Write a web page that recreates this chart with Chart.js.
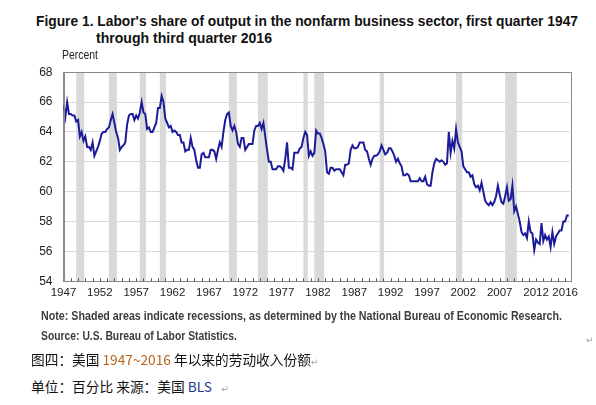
<!DOCTYPE html>
<html>
<head>
<meta charset="utf-8">
<script src="https://cdn.jsdelivr.net/npm/chart.js@4.4.0/dist/chart.umd.min.js"></script>
<style>
  html, body { margin: 0; padding: 0; background: #fff; }
  #page { position: relative; width: 596px; height: 405px; overflow: hidden; background: #fff; }
  .txt { position: absolute; white-space: nowrap; line-height: 1; z-index: 2; }
  .title { font-family: "Liberation Sans", sans-serif; font-weight: bold; font-size: 15.5px; color: #111; }
  .small { font-family: "Liberation Sans", sans-serif; font-size: 12.5px; color: #222; }
  .note { font-family: "Liberation Sans", sans-serif; font-weight: bold; font-size: 12.5px; color: #3c3c3c; }
  .cn { font-family: "Noto Sans CJK SC", sans-serif; font-size: 13.7px; color: #111; }
  .num { color: #b8661e; }
  .bls { color: #233a92; }
  .mark { color: #a0a0a0; font-family: "DejaVu Sans", sans-serif; font-size: 9px; }
  #chartBox { position: absolute; left: 0; top: 54px; width: 596px; height: 256px; z-index: 1; }
</style>
</head>
<body>
<div id="page">
  <div class="txt title" data-w="542" style="left:36px; top:13px;">Figure 1. Labor's share of output in the nonfarm business sector, first quarter 1947</div>
  <div class="txt title" data-w="176" style="left:96px; top:30px;">through third quarter 2016</div>
  <div class="txt small" data-w="36" style="left:62px; top:49px;">Percent</div>

  <div id="chartBox"><canvas id="shareChart" width="596" height="256"></canvas></div>

  <div class="txt note" data-w="521" style="left:41px; top:310px;">Note: Shaded areas indicate recessions, as determined by the National Bureau of Economic Research.</div>
  <div class="txt note" data-w="196" style="left:41px; top:330px;">Source: U.S. Bureau of Labor Statistics.</div>
  <div class="txt mark" style="left:586px; top:336px;">↵</div>

  <div class="txt cn" style="left:31px; top:353px;">图四：美国 <span class="num">1947~2016</span> 年以来的劳动收入份额<span class="mark">↵</span></div>
  <div class="txt cn" style="left:31px; top:380px;">单位：百分比 来源：美国 <span class="bls">BLS</span> &nbsp; <span class="mark">↵</span></div>
</div>

<script>
// Labor's share, nonfarm business, quarterly from 1947Q1 (percent)
const startYear = 1947;

const share1940s = [
    65.8, 65.0, 66.0, 65.2,   // 1947
    65.2, 65.1, 65.1, 64.7,   // 1948
    64.8, 63.7, 64.0, 63.4    // 1949
];
const share1950s = [
    63.7, 63.0, 63.0, 62.8,
    63.3, 62.4, 62.7, 63.0,
    63.4, 63.9, 64.0, 64.0,
    64.2, 64.3, 64.8, 65.2,
    64.6, 64.0, 63.6, 62.8,
    63.0, 63.1, 63.3, 64.5,
    65.1, 65.2, 65.2, 64.8,
    65.1, 64.9, 65.3, 66.0,
    65.3, 65.2, 64.2, 64.3,
    64.0, 64.0, 64.3, 64.6
];
const share1960s = [
    65.6, 65.6, 66.4, 66.0,
    64.9, 64.6, 64.3, 64.4,
    64.0, 64.1, 64.0, 63.8,
    63.8, 63.3, 63.3, 62.7,
    62.8, 62.8, 63.6, 63.0,
    62.8, 62.1, 61.6, 61.6,
    62.5, 62.6, 62.3, 62.3,
    62.3, 62.8, 62.8, 62.7,
    62.2, 62.8, 63.3, 63.0,
    64.0, 64.8, 65.2, 65.3
];
const share1970s = [
    64.4, 64.1, 64.4, 64.0,
    63.2, 63.0, 63.6, 63.6,
    62.8, 63.0, 63.2, 63.2,
    63.2, 64.1, 64.4, 64.4,
    64.6, 64.2, 64.6, 63.7,
    62.8, 62.0, 62.0, 61.5,
    61.5, 61.5, 61.7, 61.7,
    61.6, 61.4, 62.2, 63.3,
    61.6, 61.6, 61.5, 62.6,
    62.6, 62.6, 62.9, 63.0
];
const share1980s = [
    63.6, 64.0, 63.8, 62.4,
    62.7, 62.4, 62.6, 64.1,
    63.9, 63.9, 63.6, 63.2,
    62.7, 61.3, 61.2, 61.6,
    61.6, 61.4, 61.5, 61.5,
    61.5, 61.3, 61.1, 61.8,
    61.8, 61.9, 62.8, 63.1,
    62.9, 62.9, 63.0, 63.3,
    63.3, 63.3, 62.8, 62.7,
    62.2, 61.8, 62.2, 62.4
];
const share1990s = [
    62.4, 62.5, 62.7, 63.1,
    62.8, 62.5, 62.6, 62.9,
    62.9, 62.7, 62.4, 62.0,
    62.2, 61.9, 61.7, 61.1,
    61.1, 61.2, 61.1, 60.7,
    60.7, 60.7, 60.7, 60.7,
    60.9, 60.7, 60.7, 61.0,
    60.5, 60.4, 60.4, 61.3,
    61.9, 62.2, 62.1, 62.0,
    62.1, 62.0, 61.8, 61.9
];
const share2000s = [
    64.0, 62.6, 63.4, 62.9,
    64.2, 63.3, 63.0, 62.7,
    61.7, 61.5, 61.3, 61.3,
    61.0, 61.1, 60.5, 60.3,
    60.4, 60.1, 60.6, 60.0,
    59.4, 59.2, 59.1, 59.3,
    59.1, 59.3, 59.7, 60.4,
    59.8, 59.3, 59.2, 59.7,
    60.3, 59.4, 59.5, 60.4,
    58.7, 59.0, 58.5, 58.0
];
const share2010s = [
    57.3, 57.1, 57.2, 56.9,
    58.0, 57.3, 57.2, 56.1,
    56.8, 56.6, 56.5, 57.9,
    56.7, 57.1, 56.8, 57.0,
    56.3, 57.3, 56.5, 57.0,
    57.2, 57.4, 57.4, 58.0,
    58.0, 58.4, 58.4          // 2016Q1-Q3
];

// NBER recessions, peak and trough quarters
const recessionPeaks   = ["1948Q4", "1953Q2", "1957Q3", "1960Q2", "1969Q4", "1973Q4", "1980Q1", "1981Q3", "1990Q3", "2001Q1", "2007Q4"];
const recessionTroughs = ["1949Q4", "1954Q2", "1958Q2", "1961Q1", "1970Q4", "1975Q1", "1980Q3", "1982Q4", "1991Q1", "2001Q4", "2009Q2"];

const tickYears = [1947, 1952, 1957, 1962, 1967, 1972, 1977, 1982, 1987, 1992, 1997, 2002, 2007, 2012, 2016];
const yTicks = [54, 56, 58, 60, 62, 64, 66, 68];

const laborShare = [].concat(share1940s, share1950s, share1960s, share1970s,
                             share1980s, share1990s, share2000s, share2010s);

function quarterToYear(q) {
    const parts = q.split("Q");
    return parseInt(parts[0]) + (parseInt(parts[1]) - 1) / 4;
}

// squeeze the html texts to the width they take in the figure
document.querySelectorAll("[data-w]").forEach(el => {
    const w = el.getBoundingClientRect().width;
    el.style.transformOrigin = "0 0";
    el.style.transform = "scaleX(" + (parseFloat(el.dataset.w) / w) + ")";
});

const points = laborShare.map((v, i) => ({ x: startYear + i / 4, y: v }));

const axisGray = "#8a8a8a";

// grey recession bars, box border and small inward year ticks
const decorPlugin = {
    id: "decor",
    beforeDatasetsDraw(chart) {
        const ctx = chart.ctx;
        const area = chart.chartArea;
        const xs = chart.scales.x;
        ctx.save();
        ctx.fillStyle = "#d9d9d9";
        recessionPeaks.forEach((p, i) => {
            const x0 = xs.getPixelForValue(quarterToYear(p));
            const x1 = xs.getPixelForValue(quarterToYear(recessionTroughs[i]) + 0.1);
            ctx.fillRect(x0, area.top, x1 - x0, area.bottom - area.top);
        });
        ctx.restore();
    },
    afterDraw(chart) {
        const ctx = chart.ctx;
        const area = chart.chartArea;
        const xs = chart.scales.x;
        ctx.save();
        ctx.strokeStyle = axisGray;
        ctx.lineWidth = 1;
        ctx.strokeRect(Math.round(area.left) + 0.5, Math.round(area.top) + 0.5,
                       Math.round(area.right - area.left), Math.round(area.bottom - area.top));
        ctx.strokeStyle = "#555";
        ctx.beginPath();
        for (let y = startYear + 1; y <= 2016; y++) {
            const x = Math.round(xs.getPixelForValue(y)) + 0.5;
            ctx.moveTo(x, area.bottom);
            ctx.lineTo(x, area.bottom - 3);
        }
        ctx.stroke();
        ctx.restore();
    }
};

const tickFont = { family: "'Liberation Sans', sans-serif", size: 11.5 };

new Chart(document.getElementById("shareChart"), {
    type: "line",
    data: {
        datasets: [
            {
                label: "Labor's share",
                data: points,
                borderColor: "#1c1c9a",
                borderWidth: 2,
                pointRadius: 0,
                tension: 0,
                fill: false,
            },
        ],
    },
    options: {
        responsive: false,
        animation: false,
        layout: { padding: { top: 12, right: 26, left: 0, bottom: 0 } },
        plugins: {
            legend: { display: false },
            tooltip: { enabled: false },
        },
        scales: {
            x: {
                type: "linear",
                min: startYear,
                max: 2016.67,
                afterBuildTicks: (scale) => {
                    scale.ticks = tickYears.map(y => ({ value: y }));
                },
                afterFit: (scale) => { scale.height = 28.7; },
                grid: { display: true, drawOnChartArea: false, drawTicks: false },
                border: { display: true, color: axisGray, width: 1 },
                ticks: {
                    autoSkip: false,
                    maxRotation: 0,
                    padding: 5,
                    color: "#222",
                    font: tickFont,
                    callback: (v) => String(v),
                },
            },
            y: {
                min: 54,
                max: 68,
                afterBuildTicks: (scale) => {
                    scale.ticks = yTicks.map(v => ({ value: v }));
                },
                afterFit: (scale) => { scale.width = 63.5; },
                grid: { color: "#d9d9d9", drawTicks: false },
                border: { display: true, color: axisGray, width: 1 },
                ticks: {
                    padding: 11,
                    color: "#222",
                    font: { family: "'Liberation Sans', sans-serif", size: 12 },
                },
            },
        },
    },
    plugins: [decorPlugin],
});
</script>
</body>
</html>
